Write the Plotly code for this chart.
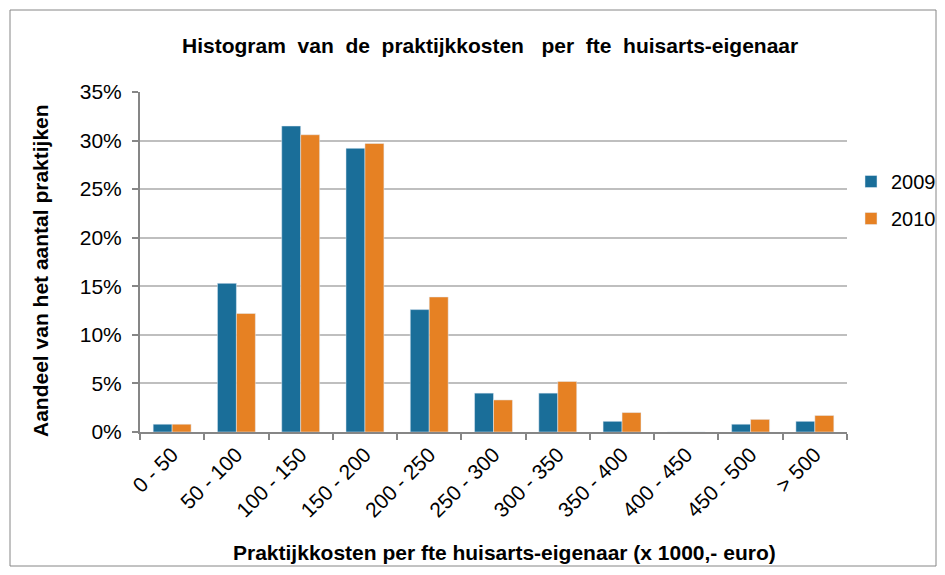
import plotly.graph_objects as go

# Histogram data (fractions of practices)
categories = ["0 - 50", "50 - 100", "100 - 150", "150 - 200", "200 - 250",
              "250 - 300", "300 - 350", "350 - 400", "400 - 450", "450 - 500", "> 500"]
share_2009 = [0.008, 0.153, 0.315, 0.292, 0.126, 0.040, 0.040, 0.011, 0.0, 0.008, 0.011]
share_2010 = [0.008, 0.122, 0.306, 0.297, 0.139, 0.033, 0.052, 0.020, 0.0, 0.013, 0.017]
y_ticks = [0, 0.05, 0.10, 0.15, 0.20, 0.25, 0.30, 0.35]

BLUE = "#1a6e99"
ORANGE = "#e68123"
AXIS_GREY = "#868686"
FONT = "Liberation Sans, Arial, sans-serif"

# page body has an 8px margin on every side; keep the figure inside the window
OFF = 8
W, H = 945 - 2 * OFF, 575 - 2 * OFF
L, T = 132, 84
R = W - (847 - OFF)
B = H - (432 - OFF)
pw, ph = W - L - R, H - T - B


def px_x(x):
    # screen pixel -> paper coordinate
    return (x - OFF - L) / pw


def px_y(y):
    return 1 - (y - OFF - T) / ph


fig = go.Figure()
# separate legend groups so tracegroupgap spaces the two legend entries
fig.add_trace(go.Bar(x=categories, y=share_2009, name="2009", marker_color=BLUE,
                     legendgroup="y2009"))
fig.add_trace(go.Bar(x=categories, y=share_2010, name="2010", marker_color=ORANGE,
                     legendgroup="y2010"))

title = "&nbsp; ".join("Histogram van de praktijkkosten &nbsp;per fte huisarts-eigenaar".split(" "))

fig.update_layout(
    width=W, height=H,
    margin=dict(l=L, r=R, t=T, b=B, autoexpand=False),
    paper_bgcolor="white", plot_bgcolor="white",
    font=dict(family=FONT, size=21, color="black"),
    barmode="group", bargap=0.41, bargroupgap=0,
    showlegend=True,
    legend=dict(x=px_x(851), xanchor="left", y=px_y(200), yanchor="middle",
                font=dict(size=20), itemwidth=30, tracegroupgap=8,
                bgcolor="rgba(0,0,0,0)"),
    xaxis=dict(
        showline=True, linecolor=AXIS_GREY, linewidth=2,
        ticks="outside", ticklen=6, tickcolor=AXIS_GREY, tickwidth=2,
        tickson="boundaries", tickangle=-45,
        tickfont=dict(size=21),
    ),
    yaxis=dict(
        range=[0, 0.35], tickvals=y_ticks, tickformat=".0%",
        showline=True, linecolor=AXIS_GREY, linewidth=2,
        ticks="outside", ticklen=6, tickcolor=AXIS_GREY, tickwidth=2,
        ticklabelstandoff=6,
        showgrid=True, gridcolor="#bfbfbf", gridwidth=2,
        zeroline=False, tickfont=dict(size=21),
    ),
    annotations=[
        dict(text=f"<b>{title}</b>", xref="paper", yref="paper",
             x=px_x(490), y=px_y(45), xanchor="center", yanchor="middle",
             showarrow=False, font=dict(size=21)),
        dict(text="<b>Praktijkkosten per fte huisarts-eigenaar (x 1000,- euro)</b>",
             xref="paper", yref="paper", x=px_x(505), y=px_y(552),
             xanchor="center", yanchor="middle", showarrow=False,
             font=dict(size=21)),
        dict(text="<b>Aandeel van het aantal praktijken</b>",
             xref="paper", yref="paper", x=px_x(40), y=px_y(271),
             xanchor="center", yanchor="middle", showarrow=False,
             textangle=-90, font=dict(size=21)),
    ],
)

# thin outer border around the chart area
fig.add_shape(type="rect", xref="paper", yref="paper",
              x0=px_x(10), x1=px_x(OFF + W - 1), y0=px_y(OFF + H - 1), y1=px_y(10),
              line=dict(color=AXIS_GREY, width=1))

fig.write_html("out.html")
